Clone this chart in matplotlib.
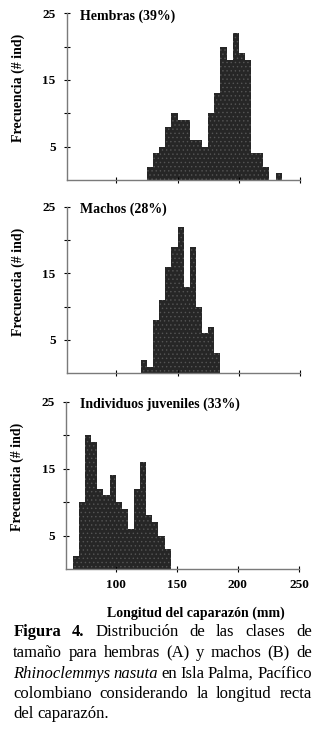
import matplotlib
matplotlib.use('Agg')
import matplotlib.pyplot as plt

plt.rcParams['font.family'] = ['Liberation Serif', 'DejaVu Serif']
plt.rcParams['hatch.color'] = '#555555'
plt.rcParams['hatch.linewidth'] = 0.5

# histogram data, bins of 5 mm (left edge of each bin)
hembras_bins = [125, 130, 135, 140, 145, 150, 155, 160, 165, 170, 175,
                180, 185, 190, 195, 200, 205, 210, 215, 220, 225, 230]
hembras_n = [2, 4, 5, 8, 10, 9, 9, 6, 6, 5, 10,
             13, 20, 18, 22, 19, 18, 4, 4, 2, 0, 1]

machos_bins = [120, 125, 130, 135, 140, 145, 150, 155, 160, 165, 170, 175, 180]
machos_n = [2, 1, 8, 11, 16, 19, 22, 13, 19, 10, 6, 7, 3]

juveniles_bins = [65, 70, 75, 80, 85, 90, 95, 100, 105, 110, 115, 120,
                  125, 130, 135, 140]
juveniles_n = [2, 10, 20, 19, 12, 11, 14, 10, 9, 6, 12, 16, 8, 7, 5, 3]

titulos = ['Hembras (39%)', 'Machos (28%)', 'Individuos juveniles (33%)']
x_ticks = [100, 150, 200, 250]
y_ticks = [5, 10, 15, 20, 25]
y_labels = ['5', '', '15', '', '25']

W, H = 327, 731
fig = plt.figure(figsize=(W / 100, H / 100), dpi=100)

def px_box(left, top, right, bottom):
    return [left / W, 1 - bottom / H, (right - left) / W, (bottom - top) / H]

boxes = [px_box(66.7, 13.3, 300, 180),
         px_box(66.7, 206.7, 300, 373.3),
         px_box(66.2, 401.7, 299, 569)]
datos = [(hembras_bins, hembras_n), (machos_bins, machos_n),
         (juveniles_bins, juveniles_n)]

for i, (box, (bins, n)) in enumerate(zip(boxes, datos)):
    ax = fig.add_axes(box)
    ax_w = box[2] * W
    ax.bar(bins, n, width=5, align='edge', color='#262626',
           hatch='....', linewidth=0)
    ax.set_xlim(59.5, 250)
    ax.set_ylim(0, 25)
    ax.spines['top'].set_visible(False)
    ax.spines['right'].set_visible(False)
    for s in ['left', 'bottom']:
        ax.spines[s].set_color('#7a7a7a')
        ax.spines[s].set_linewidth(1.0)
    ax.set_yticks(y_ticks)
    ax.set_yticklabels(y_labels, fontsize=9.5, fontweight='bold')
    ax.set_xticks(x_ticks)
    ax.tick_params(axis='y', direction='inout', length=4, width=0.8, pad=6)
    ax.tick_params(axis='x', direction='inout', length=4, width=0.8, pad=5)
    if i < 2:
        ax.set_xticklabels([])
    else:
        ax.set_xticklabels([str(t) for t in x_ticks], fontsize=9.5,
                           fontweight='bold')
    ax.set_ylabel('Frecuencia (# ind)', fontsize=10, fontweight='bold')
    ax.yaxis.set_label_coords(-(66.7 - 25) / ax_w, 0.55)
    ax.text((80 - 66.7) / ax_w, 0.985, titulos[i], transform=ax.transAxes,
            fontsize=10, fontweight='bold', va='center', ha='left')

fig.text(196 / W, 1 - 613 / H, 'Longitud del caparazón (mm)', fontsize=10,
         fontweight='bold', ha='center', va='center')

# caption, justified word by word
caption = [
    [('Figura', 'bold'), ('4.', 'bold'), ('Distribución', 'normal'),
     ('de', 'normal'), ('las', 'normal'), ('clases', 'normal'), ('de', 'normal')],
    [(w, 'normal') for w in 'tamaño para hembras (A) y machos (B) de'.split()],
    [('Rhinoclemmys', 'italic'), ('nasuta', 'italic'), ('en', 'normal'),
     ('Isla', 'normal'), ('Palma,', 'normal'), ('Pacífico', 'normal')],
    [(w, 'normal') for w in 'colombiano considerando la longitud recta'.split()],
    [(w, 'normal') for w in 'del caparazón.'.split()],
]
baselines = [636.5, 657, 677.5, 698, 718.5]
x_left, x_right = 13.3, 311.7

renderer = fig.canvas.get_renderer()
for j, (linea, yb) in enumerate(zip(caption, baselines)):
    objs = []
    for word, style in linea:
        kw = dict(fontsize=12, va='baseline', ha='left')
        if style == 'bold':
            kw['fontweight'] = 'bold'
        elif style == 'italic':
            kw['fontstyle'] = 'italic'
        objs.append(fig.text(0, 1 - yb / H, word, **kw))
    widths = [t.get_window_extent(renderer).width for t in objs]
    if j < len(caption) - 1:
        gap = (x_right - x_left - sum(widths)) / (len(objs) - 1)
    else:
        gap = 4.0
    x = x_left
    for t, w in zip(objs, widths):
        t.set_x(x / W)
        x += w + gap

fig.savefig('out.png', dpi=100)
